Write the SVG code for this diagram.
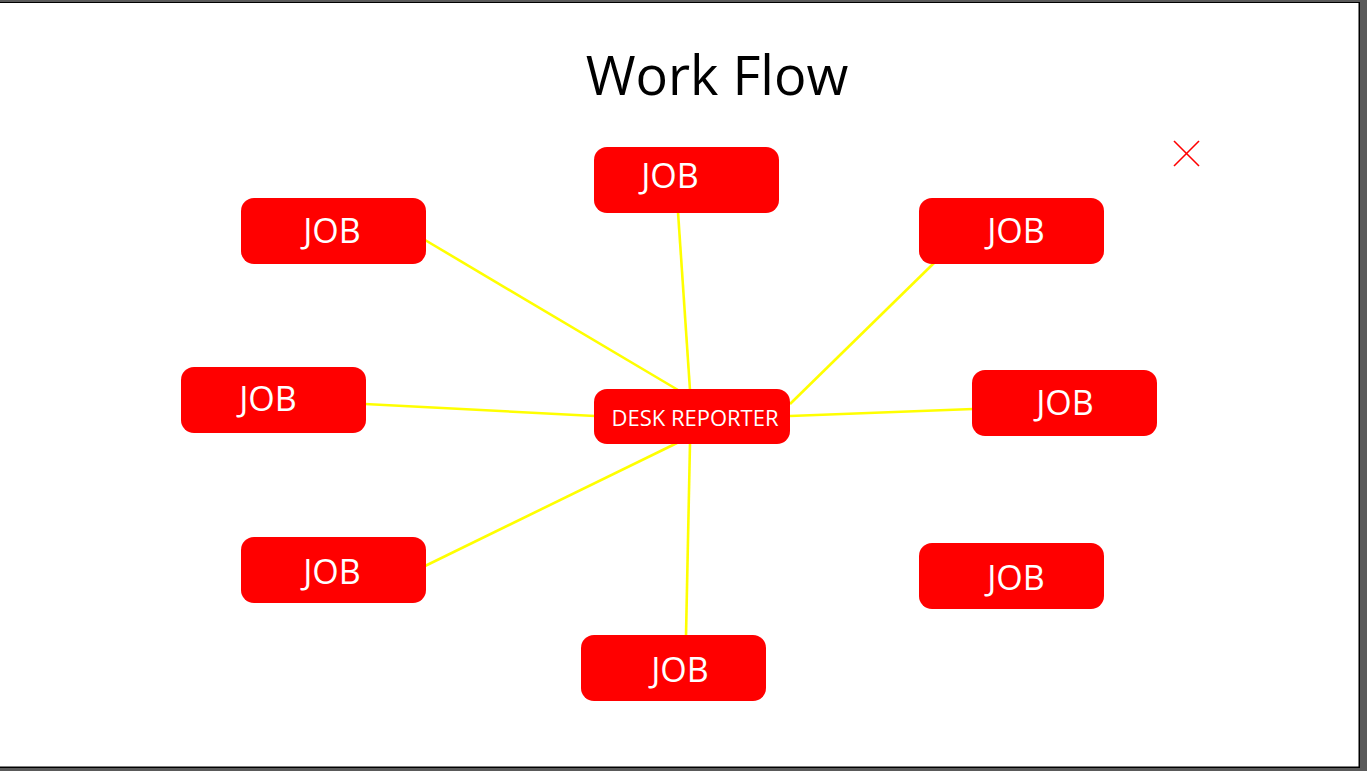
<svg xmlns="http://www.w3.org/2000/svg" width="1367" height="771" viewBox="0 0 1367 771">
<style>
.node{fill:#ff0000}
.lbl{fill:#ffffff;font-family:"Open Sans","Liberation Sans",sans-serif;font-size:34px;text-anchor:middle}
.small{font-size:22px}
.conn{stroke:#ffff00;stroke-width:2.6;fill:none}
</style>
<rect x="0" y="0" width="1367" height="771" fill="#5a5a5a"/>
<rect x="0" y="2" width="1360" height="766" fill="#000000"/>
<rect x="0" y="3" width="1358.5" height="763.5" fill="#ffffff"/>
<text x="717" y="95" font-family="'Open Sans','Liberation Sans',sans-serif" font-size="54" text-anchor="middle" fill="#000000">Work Flow</text>
<g id="close" stroke="#ff0000" stroke-width="1.6">
<line x1="1174" y1="141" x2="1199" y2="166"/>
<line x1="1199" y1="141" x2="1174" y2="166"/>
</g>
<g id="connectors" class="conn">
<line x1="425" y1="240" x2="678" y2="390"/>
<line x1="678" y1="212" x2="690" y2="390"/>
<line x1="934" y1="263" x2="790" y2="404"/>
<line x1="365" y1="404" x2="595" y2="416"/>
<line x1="973" y1="409" x2="790" y2="416"/>
<line x1="425" y1="566" x2="677" y2="443"/>
<line x1="686" y1="636" x2="690" y2="443"/>
</g>
<g id="center"><rect class="node" x="594" y="389" width="196" height="55" rx="13"/><text class="lbl small" x="695" y="426">DESK REPORTER</text></g>
<g id="job-top"><rect class="node" x="594" y="147" width="185" height="66" rx="13"/><text class="lbl" x="670" y="188">JOB</text></g>
<g id="job-topleft"><rect class="node" x="241" y="198" width="185" height="66" rx="13"/><text class="lbl" x="332" y="243">JOB</text></g>
<g id="job-topright"><rect class="node" x="919" y="198" width="185" height="66" rx="13"/><text class="lbl" x="1016" y="243">JOB</text></g>
<g id="job-left"><rect class="node" x="181" y="367" width="185" height="66" rx="13"/><text class="lbl" x="268" y="411">JOB</text></g>
<g id="job-right"><rect class="node" x="972" y="370" width="185" height="66" rx="13"/><text class="lbl" x="1065" y="415">JOB</text></g>
<g id="job-bottomleft"><rect class="node" x="241" y="537" width="185" height="66" rx="13"/><text class="lbl" x="332" y="584">JOB</text></g>
<g id="job-bottomright"><rect class="node" x="919" y="543" width="185" height="66" rx="13"/><text class="lbl" x="1016" y="590">JOB</text></g>
<g id="job-bottom"><rect class="node" x="581" y="635" width="185" height="66" rx="13"/><text class="lbl" x="680" y="682">JOB</text></g>
</svg>
